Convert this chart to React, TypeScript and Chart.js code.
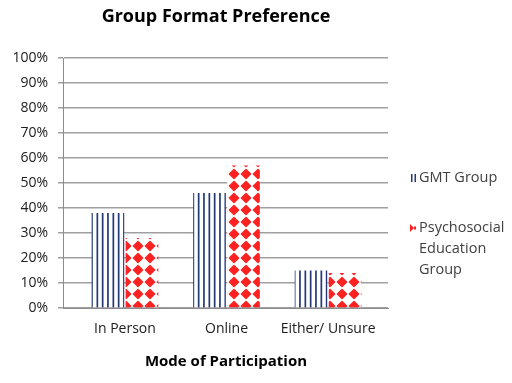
import React, { useEffect, useRef } from "react";
import { Chart, registerables } from "chart.js";

Chart.register(...registerables);

const categories = ["In Person", "Online", "Either/ Unsure"];
const gmtValues = [38, 46, 15];
const psychValues = [28, 57, 14];
const seriesNames = ["GMT Group", "Psychosocial Education Group"];
const legendLines = [["GMT Group"], ["Psychosocial", "Education", "Group"]];
const titleText = "Group Format Preference";
const xTitleText = "Mode of Participation";

const NAVY = "#22397A";
const RED = "#FF2222";
const FONT = "'Open Sans', sans-serif";

function stripePattern(): CanvasPattern | string {
  const c = document.createElement("canvas");
  c.width = 16;
  c.height = 4;
  const g = c.getContext("2d");
  if (!g) return NAVY;
  g.fillStyle = "#ffffff";
  g.fillRect(0, 0, 16, 4);
  g.fillStyle = NAVY;
  [0.5, 5.8, 11.1].forEach((x) => g.fillRect(x, 0, 1.7, 4));
  return g.createPattern(c, "repeat") || NAVY;
}

function diamondPattern(): CanvasPattern | string {
  const s = 12;
  const c = document.createElement("canvas");
  c.width = s;
  c.height = s;
  const g = c.getContext("2d");
  if (!g) return RED;
  g.fillStyle = "#ffffff";
  g.fillRect(0, 0, s, s);
  g.fillStyle = RED;
  g.strokeStyle = RED;
  g.lineWidth = 1.4;
  g.lineJoin = "round";
  const cx = s / 2;
  const cy = s / 2;
  const r = 4.6;
  g.beginPath();
  g.moveTo(cx, cy - r);
  g.lineTo(cx + r, cy);
  g.lineTo(cx, cy + r);
  g.lineTo(cx - r, cy);
  g.closePath();
  g.fill();
  g.stroke();
  return g.createPattern(c, "repeat") || RED;
}

export default function App() {
  const ref = useRef<HTMLCanvasElement | null>(null);

  useEffect(() => {
    if (!ref.current) return;
    const stripes = stripePattern();
    const diamonds = diamondPattern();

    const overlay = {
      id: "overlay",
      afterDraw(chart: any) {
        const ctx = chart.ctx;
        ctx.save();
        ctx.fillStyle = "#000000";
        ctx.font = `bold 18px ${FONT}`;
        ctx.textAlign = "center";
        ctx.textBaseline = "middle";
        ctx.fillText(titleText, 216, 17);

        ctx.font = `bold 15px ${FONT}`;
        ctx.fillText(xTitleText, 226, 362);

        // legend
        ctx.textAlign = "left";
        ctx.font = `14.5px ${FONT}`;
        ctx.fillStyle = "#404040";
        const starts = [178, 228];
        legendLines.forEach((lines, i) => {
          const y0 = starts[i];
          lines.forEach((ln, j) => {
            ctx.fillText(ln, 419, y0 + j * 21);
          });
        });
        // swatches
        ctx.fillStyle = NAVY;
        ctx.fillRect(411, 174, 1.5, 8);
        ctx.fillRect(414.5, 174, 1.5, 8);
        ctx.fillStyle = RED;
        ctx.beginPath();
        ctx.moveTo(410, 224);
        ctx.lineTo(414, 228);
        ctx.lineTo(410, 232);
        ctx.closePath();
        ctx.fill();
        ctx.fillRect(414, 226.5, 2, 3);
        ctx.restore();
      },
    };

    const chart = new Chart(ref.current, {
      type: "bar",
      data: {
        datasets: [
          {
            label: seriesNames[0],
            data: gmtValues.map((v, i) => ({ x: i, y: v })),
            backgroundColor: stripes as any,
            borderWidth: 0,
            categoryPercentage: 0.67,
            barPercentage: 0.96,
          },
          {
            label: seriesNames[1],
            data: psychValues.map((v, i) => ({ x: i, y: v })),
            backgroundColor: diamonds as any,
            borderWidth: 0,
            categoryPercentage: 0.67,
            barPercentage: 0.96,
          },
        ],
      },
      options: {
        animation: false,
        responsive: false,
        maintainAspectRatio: false,
        layout: { padding: { top: 58, right: 124, left: 0, bottom: 0 } },
        plugins: {
          legend: { display: false },
          title: { display: false },
          tooltip: { enabled: false },
        },
        scales: {
          x: {
            type: "linear",
            min: -0.61,
            max: 2.59,
            offset: false,
            grid: { display: false, drawTicks: false },
            border: { display: true, color: "#8C8C8C", width: 1 },
            afterBuildTicks(scale: any) {
              scale.ticks = categories.map((_, i) => ({ value: i }));
            },
            ticks: {
              color: "#202020",
              font: { family: FONT, size: 14 },
              padding: 13,
              autoSkip: false,
              maxRotation: 0,
              callback: (v: any) => categories[Math.round(Number(v))] ?? "",
            },
            afterFit(scale: any) {
              scale.height = 75;
            },
          },
          y: {
            min: 0,
            max: 100,
            ticks: {
              stepSize: 10,
              color: "#202020",
              font: { family: FONT, size: 14 },
              padding: 10,
              callback: (v: any) => `${v}%`,
            },
            grid: {
              color: "#A0A0A0",
              lineWidth: 1.5,
              drawTicks: true,
              tickLength: 5,
              tickColor: "#A0A0A0",
            },
            border: { display: true, color: "#8C8C8C", width: 1 },
            afterFit(scale: any) {
              scale.width = 63;
            },
          },
        },
      },
      plugins: [overlay],
    });
    return () => chart.destroy();
  }, []);

  return (
    <div style={{ position: "fixed", left: 0, top: 0, width: 512, height: 383, background: "#ffffff" }}>
      <canvas ref={ref} width={512} height={383} style={{ width: 512, height: 383 }} />
    </div>
  );
}
